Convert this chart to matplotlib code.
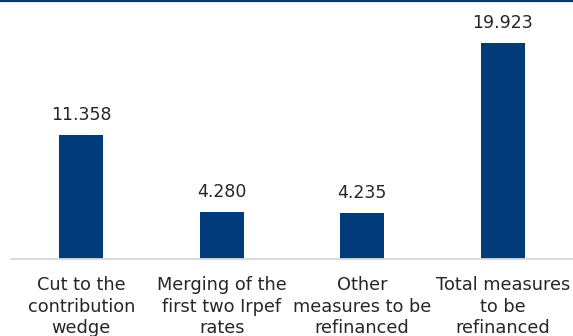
import matplotlib
matplotlib.use("Agg")
import matplotlib.pyplot as plt
from matplotlib.lines import Line2D

categories = [
    "Cut to the\ncontribution\nwedge",
    "Merging of the\nfirst two Irpef\nrates",
    "Other\nmeasures to be\nrefinanced",
    "Total measures\nto be\nrefinanced",
]
values = [11.358, 4.280, 4.235, 19.923]
value_labels = ["11.358", "4.280", "4.235", "19.923"]

BLUE = "#013B7A"
TEXT = "#262626"

W, H = 573, 336
fig = plt.figure(figsize=(W / 100, H / 100), dpi=100)
fig.patch.set_facecolor("white")

left, right, bottom, top = 11, 573, 258.5, 2
ax = fig.add_axes([left / W, (H - bottom) / H, (right - left) / W, (bottom - top) / H])

x = range(len(values))
ax.bar(x, values, width=0.31, color=BLUE, zorder=2)
ax.set_xlim(-0.5, len(values) - 0.5)
ax.set_ylim(0, 23.66)

for xi, v, lab in zip(x, values, value_labels):
    ax.annotate(lab, (xi, v), xytext=(0, 11), textcoords="offset pixels",
                ha="center", va="bottom", fontsize=12.5, color=TEXT)

for xi, cat in zip(x, categories):
    ax.annotate(cat, (xi, 0), xytext=(0, -18), textcoords="offset pixels",
                ha="center", va="top", fontsize=12.8, color=TEXT,
                linespacing=1.22, annotation_clip=False)

for s in ["top", "left", "right"]:
    ax.spines[s].set_visible(False)
ax.spines["bottom"].set_color("#D9D9D9")
ax.spines["bottom"].set_linewidth(1.3)
ax.set_xticks([])
ax.set_yticks([])

# thin rule along the top edge
fig.add_artist(Line2D([0, 1], [1 - 1 / H, 1 - 1 / H], transform=fig.transFigure,
                      color=BLUE, linewidth=1.6))

fig.savefig("out.png", dpi=100, facecolor="white")
